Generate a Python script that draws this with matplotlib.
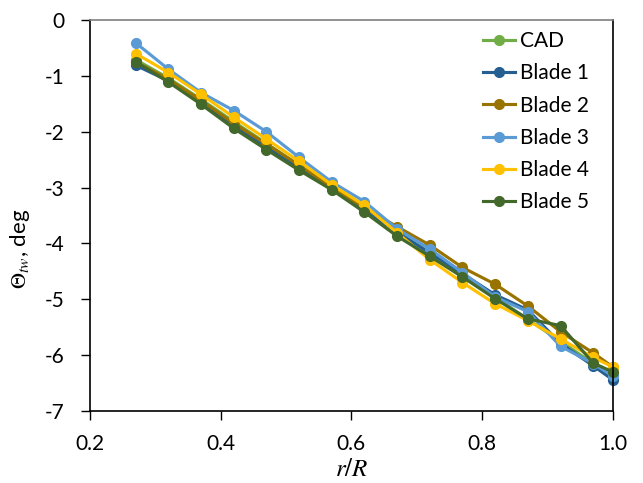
#!/usr/bin/env python3
"""
Twist angle distribution along the blade span: CAD reference vs. measured blades.
"""

import sys
import matplotlib
matplotlib.use('Agg')
import matplotlib.pyplot as plt


r_over_R = [0.27, 0.32, 0.37, 0.42, 0.47, 0.52, 0.57, 0.62,
            0.67, 0.72, 0.77, 0.82, 0.87, 0.92, 0.97, 1.0]

twist_cad = [-0.71, -1.04, -1.42, -1.82, -2.21, -2.60, -2.99, -3.38,
             -3.78, -4.17, -4.58, -4.96, -5.36, -5.75, -6.15, -6.33]
twist_blade1 = [-0.81, -1.09, -1.49, -1.89, -2.28, -2.64, -3.01, -3.40,
                -3.80, -4.17, -4.54, -4.92, -5.19, -5.79, -6.19, -6.44]
twist_blade2 = [-0.75, -1.06, -1.44, -1.85, -2.22, -2.60, -2.99, -3.36,
                -3.70, -4.03, -4.43, -4.73, -5.12, -5.58, -5.96, -6.21]
twist_blade3 = [-0.41, -0.88, -1.30, -1.62, -2.00, -2.46, -2.90, -3.25,
                -3.74, -4.10, -4.52, -4.96, -5.22, -5.84, -6.15, -6.37]
twist_blade4 = [-0.60, -0.94, -1.33, -1.74, -2.13, -2.53, -2.95, -3.32,
                -3.81, -4.29, -4.70, -5.08, -5.38, -5.71, -6.04, -6.21]
twist_blade5 = [-0.75, -1.11, -1.51, -1.94, -2.32, -2.69, -3.04, -3.44,
                -3.87, -4.23, -4.60, -4.99, -5.35, -5.47, -6.14, -6.30]

series_names = ['CAD', 'Blade 1', 'Blade 2', 'Blade 3', 'Blade 4', 'Blade 5']
series_colors = ['#70AD47', '#255E91', '#997300', '#5B9BD5', '#FFC000', '#43682B']

x_ticks = [0.2, 0.4, 0.6, 0.8, 1.0]
y_ticks = [0, -1, -2, -3, -4, -5, -6, -7]


def plot_twist(output_file):
    """Plot twist vs. radial position for all blades."""
    plt.rcParams['font.family'] = ['Lato', 'DejaVu Sans']
    plt.rcParams['mathtext.fontset'] = 'stix'

    fig = plt.figure(figsize=(6.43, 4.83), dpi=100)
    ax = fig.add_axes([0.140, 0.149, 0.813, 0.8095])

    all_series = [twist_cad, twist_blade1, twist_blade2,
                  twist_blade3, twist_blade4, twist_blade5]
    for name, color, values in zip(series_names, series_colors, all_series):
        ax.plot(r_over_R, values, '-o', color=color, linewidth=2.25,
                markersize=7, label=name, clip_on=False)

    ax.set_xlim(0.2, 1.0)
    ax.set_ylim(-7, 0)
    ax.set_xticks(x_ticks)
    ax.set_xticklabels([f'{t:.1f}' for t in x_ticks])
    ax.set_yticks(y_ticks)
    ax.set_yticklabels([str(t) for t in y_ticks])
    ax.tick_params(direction='out', length=6.5, width=1, labelsize=15,
                   colors='black')
    ax.tick_params(axis='x', pad=10)
    ax.tick_params(axis='y', pad=12)

    for side in ['left', 'bottom', 'right']:
        ax.spines[side].set_color('black')
        ax.spines[side].set_linewidth(1.2)
    ax.spines['top'].set_color('#7f7f7f')
    ax.spines['top'].set_linewidth(1.2)

    ax.set_xlabel(r'$r/R$', fontsize=18)
    ax.xaxis.set_label_coords(0.5, -0.118)
    ax.set_ylabel(r'$\Theta_{tw}$, deg', fontsize=16)
    ax.yaxis.set_label_coords(-0.111, 0.415)

    ax.legend(loc='upper left', bbox_to_anchor=(0.751, 0.972), frameon=False,
              fontsize=15, handlelength=1.54, handletextpad=0.24,
              labelspacing=0.59, borderpad=0, borderaxespad=0)

    fig.savefig(output_file, dpi=100)
    plt.close(fig)


def main():
    plot_twist('out.png')
    return 0


if __name__ == "__main__":
    sys.exit(main())
